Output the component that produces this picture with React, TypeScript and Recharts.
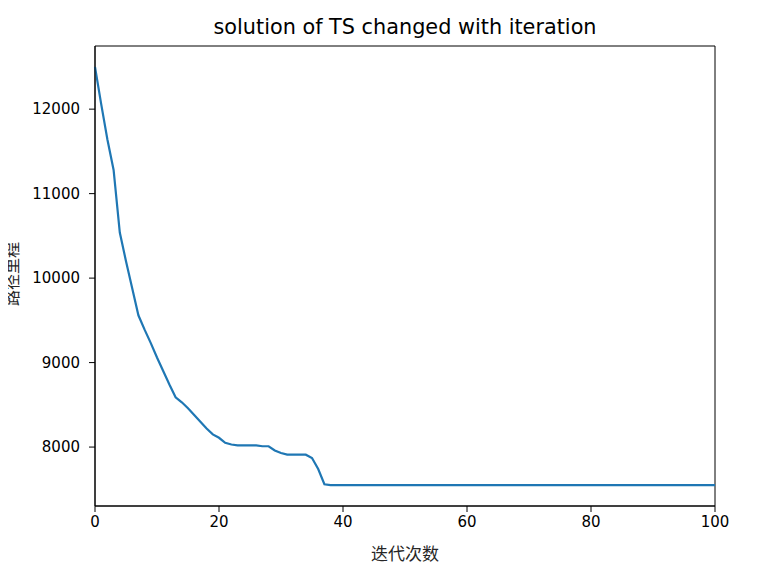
import React from 'react';
import { LineChart, Line, XAxis, YAxis, ReferenceArea } from 'recharts';

const xTicks = [0, 20, 40, 60, 80, 100];
const yTicks = [8000, 9000, 10000, 11000, 12000];

const pathLength = [
  12500, 12060, 11640, 11280, 10540, 10200, 9880, 9560, 9390, 9230,
  9060, 8900, 8740, 8590, 8530, 8460, 8380, 8300, 8220, 8150,
  8110, 8050, 8030, 8020, 8020, 8020, 8020, 8010, 8010, 7960,
  7930, 7910, 7910, 7910, 7910, 7870, 7740, 7560, 7550, 7550,
  7550, 7550, 7550, 7550, 7550, 7550, 7550, 7550, 7550, 7550,
  7550, 7550, 7550, 7550, 7550, 7550, 7550, 7550, 7550, 7550,
  7550, 7550, 7550, 7550, 7550, 7550, 7550, 7550, 7550, 7550,
  7550, 7550, 7550, 7550, 7550, 7550, 7550, 7550, 7550, 7550,
  7550, 7550, 7550, 7550, 7550, 7550, 7550, 7550, 7550, 7550,
  7550, 7550, 7550, 7550, 7550, 7550, 7550, 7550, 7550, 7550,
  7550,
];

const title = 'solution of TS changed with iteration';
const xLabel = '迭代次数';
const yLabel = '路径里程';

const data = pathLength.map((v, i) => ({ iter: i, length: v }));

const yDomain: [number, number] = [7302.5, 12747.5];
const xDomain: [number, number] = [0, 100];

const tickStyle = { fill: '#000', fontSize: 15, fontFamily: 'DejaVu Sans' };
const cjk = '"Noto Sans CJK SC", sans-serif';

export default function App() {
  return (
    <div style={{ position: 'relative', width: 760, height: 564, marginLeft: -8, marginTop: -8, background: '#fff' }}>
      <div
        style={{
          position: 'absolute',
          left: 95,
          width: 620,
          top: 17,
          textAlign: 'center',
          fontFamily: 'DejaVu Sans',
          fontSize: 20.8,
          lineHeight: '20px',
          color: '#000',
          whiteSpace: 'nowrap',
        }}
      >
        {title}
      </div>
      <LineChart width={760} height={564} data={data} margin={{ top: 46, right: 45, left: 0, bottom: 0 }}>
        <XAxis
          dataKey="iter"
          type="number"
          domain={xDomain}
          ticks={xTicks}
          height={58}
          tick={tickStyle}
          tickSize={6}
          tickMargin={4}
          axisLine={{ stroke: '#000' }}
          tickLine={{ stroke: '#000' }}
          label={{
            content: () => (
              <text x={405} y={552} textAnchor="middle" dominantBaseline="central" fontSize={17} fontFamily={cjk} fill="#262626">
                {xLabel}
              </text>
            ),
          }}
        />
        <YAxis
          type="number"
          domain={yDomain}
          ticks={yTicks}
          width={95}
          tick={tickStyle}
          tickSize={6}
          tickMargin={9}
          axisLine={{ stroke: '#000' }}
          tickLine={{ stroke: '#000' }}
          label={{
            content: () => (
              <text
                x={11}
                y={274}
                transform="rotate(-90, 11, 274)"
                textAnchor="middle"
                dominantBaseline="central"
                fontSize={16}
                fontFamily={cjk}
                fill="#262626"
              >
                {yLabel}
              </text>
            ),
          }}
        />
        <ReferenceArea
          x1={xDomain[0]}
          x2={xDomain[1]}
          y1={yDomain[0]}
          y2={yDomain[1]}
          fill="none"
          fillOpacity={0}
          stroke="#000"
          strokeWidth={1}
          ifOverflow="visible"
        />
        <Line
          type="linear"
          dataKey="length"
          stroke="#1f77b4"
          strokeWidth={2.2}
          dot={false}
          isAnimationActive={false}
        />
      </LineChart>
    </div>
  );
}
